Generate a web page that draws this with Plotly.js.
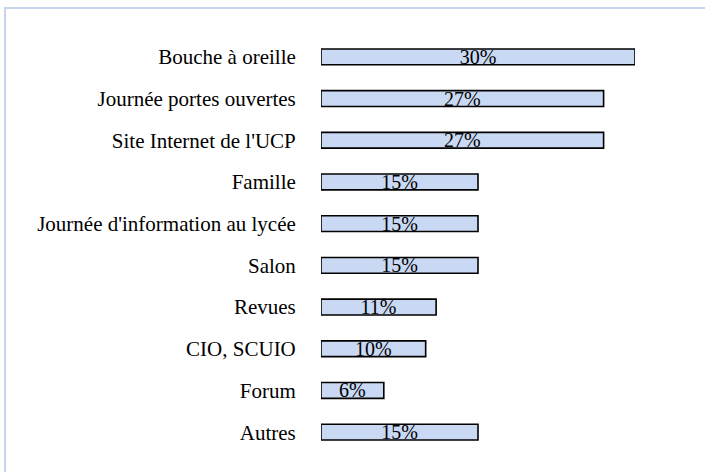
<!DOCTYPE html>
<html>
<head>
<meta charset="utf-8">
<script src="https://cdn.plot.ly/plotly-3.0.1.min.js"></script>
<style>
html,body{margin:0;padding:0;background:#fff;}
#chart{width:705px;height:472px;position:absolute;left:0;top:0;}
#frame{position:absolute;left:4px;top:7px;width:701px;height:465px;border-left:2px solid #c6d6ee;border-top:2px solid #c6d6ee;pointer-events:none;}
</style>
</head>
<body>
<div id="chart"></div>
<div id="frame"></div>
<script>
const categories = ["Bouche à oreille","Journée portes ouvertes","Site Internet de l'UCP","Famille","Journée d'information au lycée","Salon","Revues","CIO, SCUIO","Forum","Autres"];
const values = [30,27,27,15,15,15,11,10,6,15];
const labels = values.map(v => v + "%");

const trace = {
  type: 'bar',
  orientation: 'h',
  y: categories,
  x: values,
  text: labels,
  textposition: 'inside',
  insidetextanchor: 'middle',
  constraintext: 'none',
  textfont: {family: 'Liberation Serif, Times New Roman, serif', size: 20, color: '#000'},
  marker: {color: '#c9d8f3', line: {color: '#000', width: 1.6}},
  hoverinfo: 'none',
  cliponaxis: false
};

const layout = {
  width: 705, height: 472,
  margin: {l: 321, r: 70, t: 36, b: 19},
  paper_bgcolor: '#fff', plot_bgcolor: '#fff',
  showlegend: false,
  bargap: 0.62,
  xaxis: {range: [0, 30], visible: false, fixedrange: true},
  yaxis: {
    type: 'category', autorange: false, range: [9.5, -0.5],
    showgrid: false, zeroline: false, showline: false,
    ticks: 'outside', ticklen: 20, tickcolor: 'rgba(0,0,0,0)',
    tickfont: {family: 'Liberation Serif, Times New Roman, serif', size: 21, color: '#000'}
  },
  font: {family: 'Liberation Serif, Times New Roman, serif', color: '#000'}
};

Plotly.newPlot('chart', [trace], layout, {displayModeBar: false, staticPlot: true});
</script>
</body>
</html>
